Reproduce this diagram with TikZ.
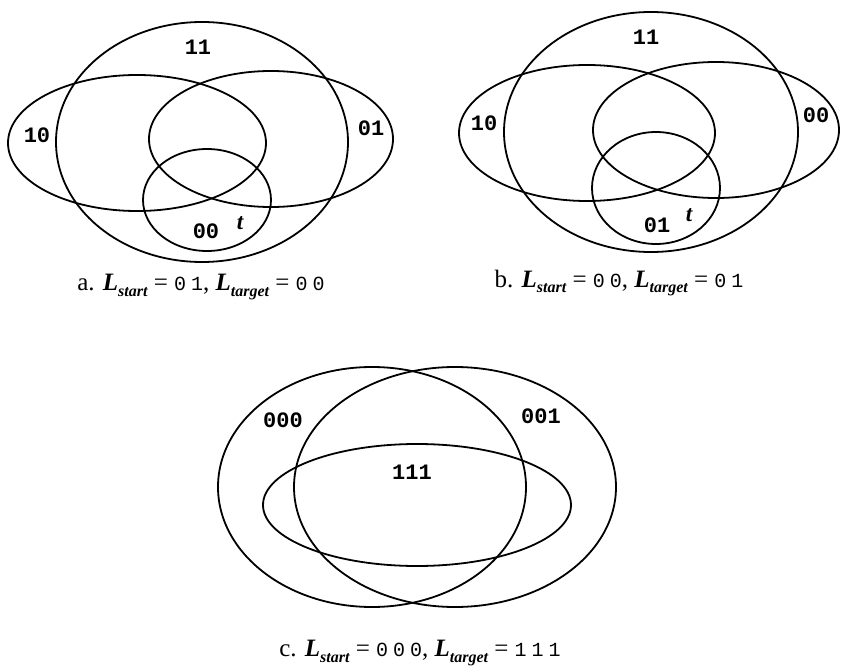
\documentclass[tikz,border=0pt]{standalone}
\usepackage{fontspec}
\setmainfont{Liberation Serif}
\newfontfamily\labmono{Liberation Mono}
\newfontfamily\capmono{Liberation Mono}[LetterSpace=25]
\newcommand{\Lsub}[1]{\textbf{\textit{L}}\raisebox{-0.22em}{\fontsize{16}{16}\selectfont\bfseries\itshape #1}}
\newcommand{\bits}[1]{{\fontsize{20}{22}\selectfont\capmono #1}}
\tikzset{
  set/.style ={line width=1.8pt, draw=black},
  lab/.style ={inner sep=0pt, font=\fontsize{22}{24}\selectfont\labmono\bfseries},
  tlab/.style={inner sep=0pt, font=\fontsize{23}{26}\selectfont\bfseries\itshape},
  capt/.style={inner sep=0pt, font=\fontsize{25}{28}\selectfont},
}

\begin{document}
\begin{tikzpicture}[x=1pt,y=-1pt]
  \useasboundingbox (0,0) rectangle (841,666);
  % a
  \draw[set] (202,142) ellipse [x radius=146, y radius=120];
  \draw[set] (137,143) ellipse [x radius=129, y radius=68];
  \draw[set] (271,139) ellipse [x radius=122, y radius=68];
  \draw[set] (207,200) ellipse [x radius=64, y radius=51];
  \node[lab]  (a11) at (198,47)  {11};
  \node[lab]  (a10) at (37,135)  {10};
  \node[lab]  (a01) at (371,128) {01};
  \node[lab]  (a00) at (206,231) {00};
  \node[tlab] (at)  at (240,223) {t};
  \node[capt] (capa) at (201,287) {a. \Lsub{start} = \bits{01}, \Lsub{target} = \bits{00}};
  % b
  \draw[set] (651,132) ellipse [x radius=147, y radius=120];
  \draw[set] (587,133) ellipse [x radius=128, y radius=68];
  \draw[set] (716,130) ellipse [x radius=123, y radius=68];
  \draw[set] (656,188) ellipse [x radius=64, y radius=56];
  \node[lab]  (b11) at (646,37)  {11};
  \node[lab]  (b10) at (484,123) {10};
  \node[lab]  (b00) at (816,115) {00};
  \node[lab]  (b01) at (657,225) {01};
  \node[tlab] (bt)  at (689,215) {t};
  \node[capt] (capb) at (619,283) {b. \Lsub{start} = \bits{00}, \Lsub{target} = \bits{01}};
  % c
  \draw[set] (372,487) ellipse [x radius=154, y radius=120];
  \draw[set] (455,487) ellipse [x radius=161, y radius=120];
  \draw[set] (417,505) ellipse [x radius=154, y radius=61];
  \node[lab]  (c000) at (283,420) {000};
  \node[lab]  (c001) at (541,416) {001};
  \node[lab]  (c111) at (412,472) {111};
  \node[capt] (capc) at (420,653) {c. \Lsub{start} = \bits{000}, \Lsub{target} = \bits{111}};
\end{tikzpicture}
\end{document}
